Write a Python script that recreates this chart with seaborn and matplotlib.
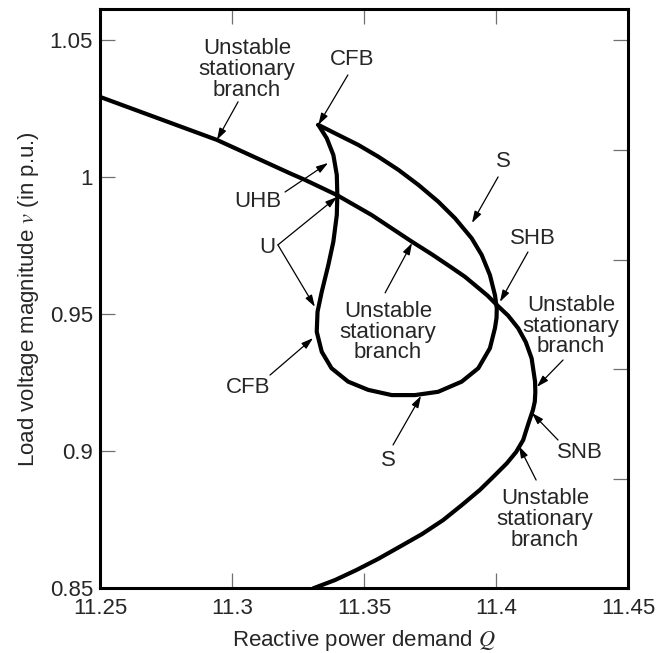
import matplotlib
matplotlib.use("Agg")
import matplotlib.pyplot as plt
import seaborn as sns
import pandas as pd

# ---- data ----
main_q = [11.2500, 11.2943, 11.3220, 11.3277, 11.3397, 11.3529, 11.3681, 11.3758,
          11.3826, 11.3882, 11.3927, 11.3968, 11.4003, 11.4046, 11.4084, 11.4113,
          11.4135, 11.4148, 11.4149, 11.4147, 11.4140, 11.4121, 11.4103, 11.4076,
          11.4041, 11.3990, 11.3939, 11.3871, 11.3800, 11.3720, 11.3636, 11.3553,
          11.3472, 11.3390, 11.3308]
main_v = [1.0292, 1.0135, 1.0013, 0.9989, 0.9934, 0.9861, 0.9764, 0.9717,
          0.9673, 0.9636, 0.9600, 0.9567, 0.9533, 0.9494, 0.9448, 0.9397,
          0.9338, 0.9253, 0.9215, 0.9180, 0.9150, 0.9095, 0.9040, 0.8996,
          0.8955, 0.8906, 0.8858, 0.8803, 0.8748, 0.8697, 0.8651, 0.8606,
          0.8566, 0.8529, 0.8499]

loop_q = [11.3327, 11.3403, 11.3478, 11.3554, 11.3630, 11.3706, 11.3781, 11.3845,
          11.3908, 11.3946, 11.3977, 11.3996, 11.4003, 11.4002, 11.3996, 11.3977,
          11.3933, 11.3870, 11.3781, 11.3693, 11.3605, 11.3516, 11.3440, 11.3377,
          11.3340, 11.3321, 11.3324, 11.3340, 11.3365, 11.3384, 11.3397, 11.3399,
          11.3397, 11.3384, 11.3359, 11.3327]
loop_v = [1.0190, 1.0153, 1.0117, 1.0074, 1.0026, 0.9971, 0.9910, 0.9849,
          0.9776, 0.9715, 0.9642, 0.9569, 0.9521, 0.9485, 0.9448, 0.9375,
          0.9302, 0.9253, 0.9216, 0.9204, 0.9204, 0.9223, 0.9253, 0.9302,
          0.9362, 0.9435, 0.9508, 0.9581, 0.9679, 0.9764, 0.9861, 0.9934,
          1.0007, 1.0080, 1.0141, 1.0190]

x_ticks = [11.25, 11.3, 11.35, 11.4, 11.45]
x_tick_labels = ["11.25", "11.3", "11.35", "11.4", "11.45"]
y_ticks = [0.85, 0.9, 0.95, 1.0, 1.05]
y_tick_labels = ["0.85", "0.9", "0.95", "1", "1.05"]
right_ticks = [0.8898, 0.9299, 0.9697, 1.0099, 1.05]
top_ticks = [11.3, 11.35, 11.4]

UNSTAB = "Unstable\nstationary\nbranch"
# (text, text position, [arrow start, arrow tip]...)
annotations = [
    (UNSTAB, (11.3057, 1.0392), [((11.3023, 1.0274), (11.2943, 1.0135))]),
    ("CFB", (11.3455, 1.0427), [((11.3439, 1.0372), (11.3327, 1.0190))]),
    ("UHB", (11.3098, 0.9909), [((11.3201, 0.9945), (11.3364, 1.0051))]),
    ("U", (11.3133, 0.9741), [((11.3174, 0.9752), (11.3398, 0.9927)),
                              ((11.3174, 0.9752), (11.3314, 0.9526))]),
    ("S", (11.4027, 1.0055), [((11.4008, 1.0000), (11.3909, 0.9832))]),
    ("SHB", (11.4140, 0.9777), [((11.4121, 0.9726), (11.4015, 0.9544))]),
    (UNSTAB, (11.3591, 0.9434), [((11.3580, 0.9577), (11.3682, 0.9759))]),
    (UNSTAB, (11.4284, 0.9455), [((11.4254, 0.9332), (11.4155, 0.9234))]),
    ("SNB", (11.4318, 0.8993), [((11.4235, 0.9040), (11.4136, 0.9139))]),
    (UNSTAB, (11.4186, 0.8750), [((11.4152, 0.8894), (11.4087, 0.9018))]),
    ("S", (11.3591, 0.8967), [((11.3610, 0.9022), (11.3716, 0.9201))]),
    ("CFB", (11.3061, 0.9230), [((11.3144, 0.9277), (11.3307, 0.9412))]),
]

sns.set_style("ticks")
plt.rcParams["font.family"] = ["Liberation Sans", "DejaVu Sans"]
plt.rcParams["mathtext.fontset"] = "stix"

FS = 16
fig = plt.figure(figsize=(6.68, 6.53), dpi=100)
ax = fig.add_axes([0.1497, 0.0995, 0.7904, 0.886])

df_main = pd.DataFrame({"Q": main_q, "v": main_v})
df_loop = pd.DataFrame({"Q": loop_q, "v": loop_v})
sns.lineplot(data=df_main, x="Q", y="v", sort=False, estimator=None, color="black",
             lw=3.0, ax=ax)
sns.lineplot(data=df_loop, x="Q", y="v", sort=False, estimator=None,
             color="black", lw=3.0, ax=ax)
for ln in ax.get_lines():
    ln.set_solid_joinstyle("round")

for text, pos, arrows in annotations:
    ax.text(pos[0], pos[1], text, ha="center", va="center", fontsize=FS,
            linespacing=0.98, multialignment="center")
    for start, tip in arrows:
        ax.annotate("", xy=tip, xytext=start,
                    arrowprops=dict(arrowstyle="-|>,head_length=0.7,head_width=0.22",
                                    lw=0.9, color="black", shrinkA=0, shrinkB=0,
                                    mutation_scale=10))

ax.set_xlim(11.25, 11.45)
ax.set_ylim(0.85, 1.0611)
ax.set_xticks(x_ticks)
ax.set_xticklabels(x_tick_labels)
ax.set_yticks(y_ticks)
ax.set_yticklabels(y_tick_labels)
ax.tick_params(direction="in", length=11, width=0.9, color="#707070",
               labelsize=FS)
ax.tick_params(axis="y", pad=5)
ax.tick_params(axis="x", pad=7)

for s in ax.spines.values():
    s.set_linewidth(2.2)
    s.set_color("black")
    s.set_visible(True)

sec_x = ax.secondary_xaxis("top")
sec_x.set_xticks(top_ticks)
sec_x.set_xticklabels([])
sec_x.tick_params(direction="in", length=11, width=0.9, color="#707070")
sec_x.spines["top"].set_visible(False)

sec_y = ax.secondary_yaxis("right")
sec_y.set_yticks(right_ticks)
sec_y.set_yticklabels([])
sec_y.tick_params(direction="in", length=11, width=0.9, color="#707070")
sec_y.spines["right"].set_visible(False)

ax.set_xlabel("Reactive power demand $Q$", fontsize=FS, labelpad=6.5)
ax.set_ylabel("Load voltage magnitude $v$ (in p.u.)", fontsize=FS, labelpad=6)

fig.savefig("out.png", dpi=100)
